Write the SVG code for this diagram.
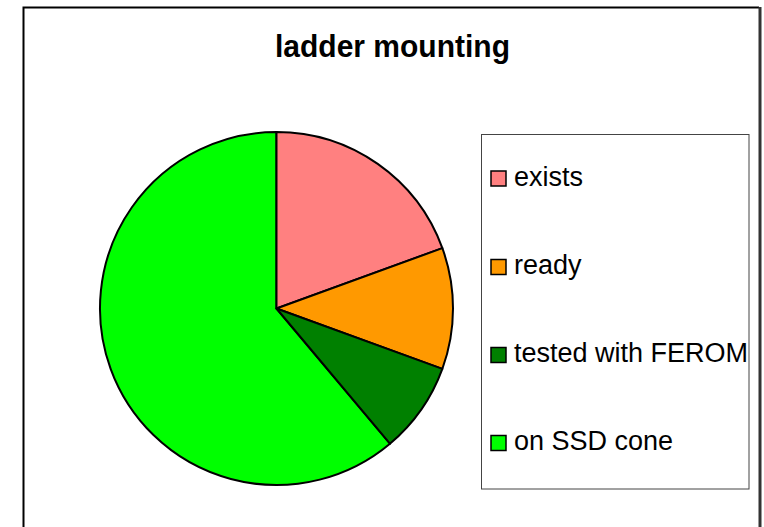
<svg xmlns="http://www.w3.org/2000/svg" width="764" height="527" viewBox="0 0 764 527">
<style>
.slice{stroke:#000;stroke-width:2;stroke-linejoin:round}
.sw{stroke:#000;stroke-width:1.5}
.lt{font-family:"Liberation Sans",Arial,sans-serif;font-size:27px;fill:#000}
.title{font-family:"Liberation Sans",Arial,sans-serif;font-size:31px;font-weight:bold;fill:#000}
</style>
<rect width="764" height="527" fill="#fff"/>
<g id="frame">
<path d="M23.5 527 V7.5 H759" fill="none" stroke="#000" stroke-width="2"/>
<path d="M760 7 V527" fill="none" stroke="#333" stroke-width="3"/>
</g>
<g id="title"><text class="title" x="275" y="57" textLength="235" lengthAdjust="spacingAndGlyphs">ladder mounting</text></g>
<g id="pie">
<path id="slice-ssd" class="slice" fill="#00FF00" d="M276.5 308.5 L389.95 443.7 A176.5 176.5 0 1 1 276.5 132 Z"/>
<path id="slice-exists" class="slice" fill="#FF8080" d="M276.5 308.5 L276.5 132 A176.5 176.5 0 0 1 442.36 248.13 Z"/>
<path id="slice-ready" class="slice" fill="#FF9900" d="M276.5 308.5 L442.36 248.13 A176.5 176.5 0 0 1 442.36 368.87 Z"/>
<path id="slice-tested" class="slice" fill="#008000" d="M276.5 308.5 L442.36 368.87 A176.5 176.5 0 0 1 389.95 443.7 Z"/>
</g>
<g id="legend">
<rect x="481.5" y="134.5" width="267.5" height="354.5" fill="#fff" stroke="#444" stroke-width="1"/>
<g id="legend-exists"><rect class="sw" x="491" y="171" width="15" height="15" fill="#FF8080"/><text class="lt" x="514" y="185.5">exists</text></g>
<g id="legend-ready"><rect class="sw" x="491" y="259.5" width="15" height="15" fill="#FF9900"/><text class="lt" x="514" y="274">ready</text></g>
<g id="legend-tested"><rect class="sw" x="491" y="347.5" width="15" height="15" fill="#008000"/><text class="lt" x="514" y="362">tested with FEROM</text></g>
<g id="legend-ssd"><rect class="sw" x="491" y="435.5" width="15" height="15" fill="#00FF00"/><text class="lt" x="514" y="450">on SSD cone</text></g>
</g>
</svg>
